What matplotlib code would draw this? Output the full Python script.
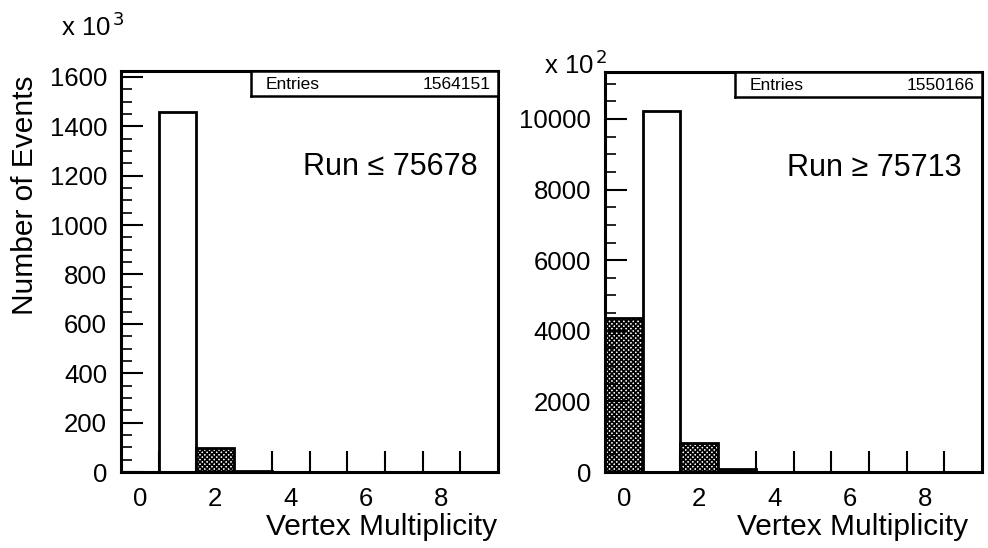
import matplotlib
matplotlib.use("Agg")
from matplotlib import pyplot as plt
import numpy as np

plt.rcParams['font.family'] = ['Liberation Sans', 'DejaVu Sans']
plt.rcParams['hatch.linewidth'] = 1.2

# vertex multiplicity bins 0..9
bins = np.arange(10)
# left: counts in units of 10^3, right: counts in units of 10^2
left_counts = [0, 1459, 97, 6, 0.4, 0, 0, 0, 0, 0]
right_counts = [4363, 10227, 830, 85, 4, 0, 0, 0, 0, 0]
left_entries = "1564151"
right_entries = "1550166"
left_run = "Run \u2264 75678"
right_run = "Run \u2265 75713"
x_labels = [0, 2, 4, 6, 8]

W, H = 988, 548
fig = plt.figure(figsize=(W / 100, H / 100), dpi=100)


def px_axes(l, t, r, b):
    return fig.add_axes([l / W, 1 - b / H, (r - l) / W, (b - t) / H])


def draw_panel(ax, counts, ymax, major, minor, entries, run_text):
    for i, c in zip(bins, counts):
        if i == 1:
            ax.bar(i, c, width=1.0, facecolor='white', edgecolor='black', linewidth=2)
        else:
            ax.bar(i, c, width=1.0, facecolor='white', edgecolor='black',
                   linewidth=2, hatch='xxxxxxx')
    ax.set_xlim(-0.5, 9.5)
    ax.set_ylim(0, ymax)
    for s in ax.spines.values():
        s.set_linewidth(2.2)
    ax.set_xticks(np.arange(0.5, 9, 1.0))
    ax.set_xticklabels([])
    ax.set_xticks(x_labels, minor=True)
    ax.set_xticklabels([str(v) for v in x_labels], minor=True)
    ax.tick_params(axis='x', which='major', direction='in', length=15, width=1.5,
                   top=False)
    ax.tick_params(axis='x', which='minor', length=0, labelsize=18.5, pad=11)
    ax.set_yticks(np.arange(0, ymax, major))
    ax.set_yticks(np.arange(0, ymax, minor), minor=True)
    ax.tick_params(axis='y', which='major', direction='in', length=16, width=1.5,
                   labelsize=18.5, pad=10, right=False)
    ax.tick_params(axis='y', which='minor', direction='in', length=8, width=1.2,
                   right=False)
    # stats box
    bx = ax.inset_axes([0.345, 1 - 25 / 401, 0.655, 25 / 401])
    bx.set_xticks([])
    bx.set_yticks([])
    for s in bx.spines.values():
        s.set_linewidth(1.8)
    bx.text(0.06, 0.45, "Entries", fontsize=12.5, va='center', transform=bx.transAxes)
    bx.text(0.97, 0.45, entries, fontsize=12.5, va='center', ha='right',
            transform=bx.transAxes)
    ax.text(0.945, 0.76, run_text, transform=ax.transAxes, fontsize=22,
            ha='right', va='center')


ax1 = px_axes(121, 71, 498, 472)
draw_panel(ax1, left_counts, 1624, 200, 50, left_entries, left_run)
ax2 = px_axes(605, 72, 982, 472)
draw_panel(ax2, right_counts, 11331, 2000, 500, right_entries, right_run)

fig.text(61 / W, 1 - 27 / H, r"x 10$^{\,3}$", fontsize=18.5, va='center')
fig.text(544 / W, 1 - 65 / H, r"x 10$^{\,2}$", fontsize=18.5, va='center')
fig.text(25 / W, 1 - 195 / H, "Number of Events", rotation=90, fontsize=21.5,
         ha='center', va='center')
fig.text(497 / W, 1 - 527 / H, "Vertex Multiplicity", fontsize=21.5,
         ha='right', va='center')
fig.text(968 / W, 1 - 527 / H, "Vertex Multiplicity", fontsize=21.5,
         ha='right', va='center')

fig.savefig("out.png", dpi=100)
